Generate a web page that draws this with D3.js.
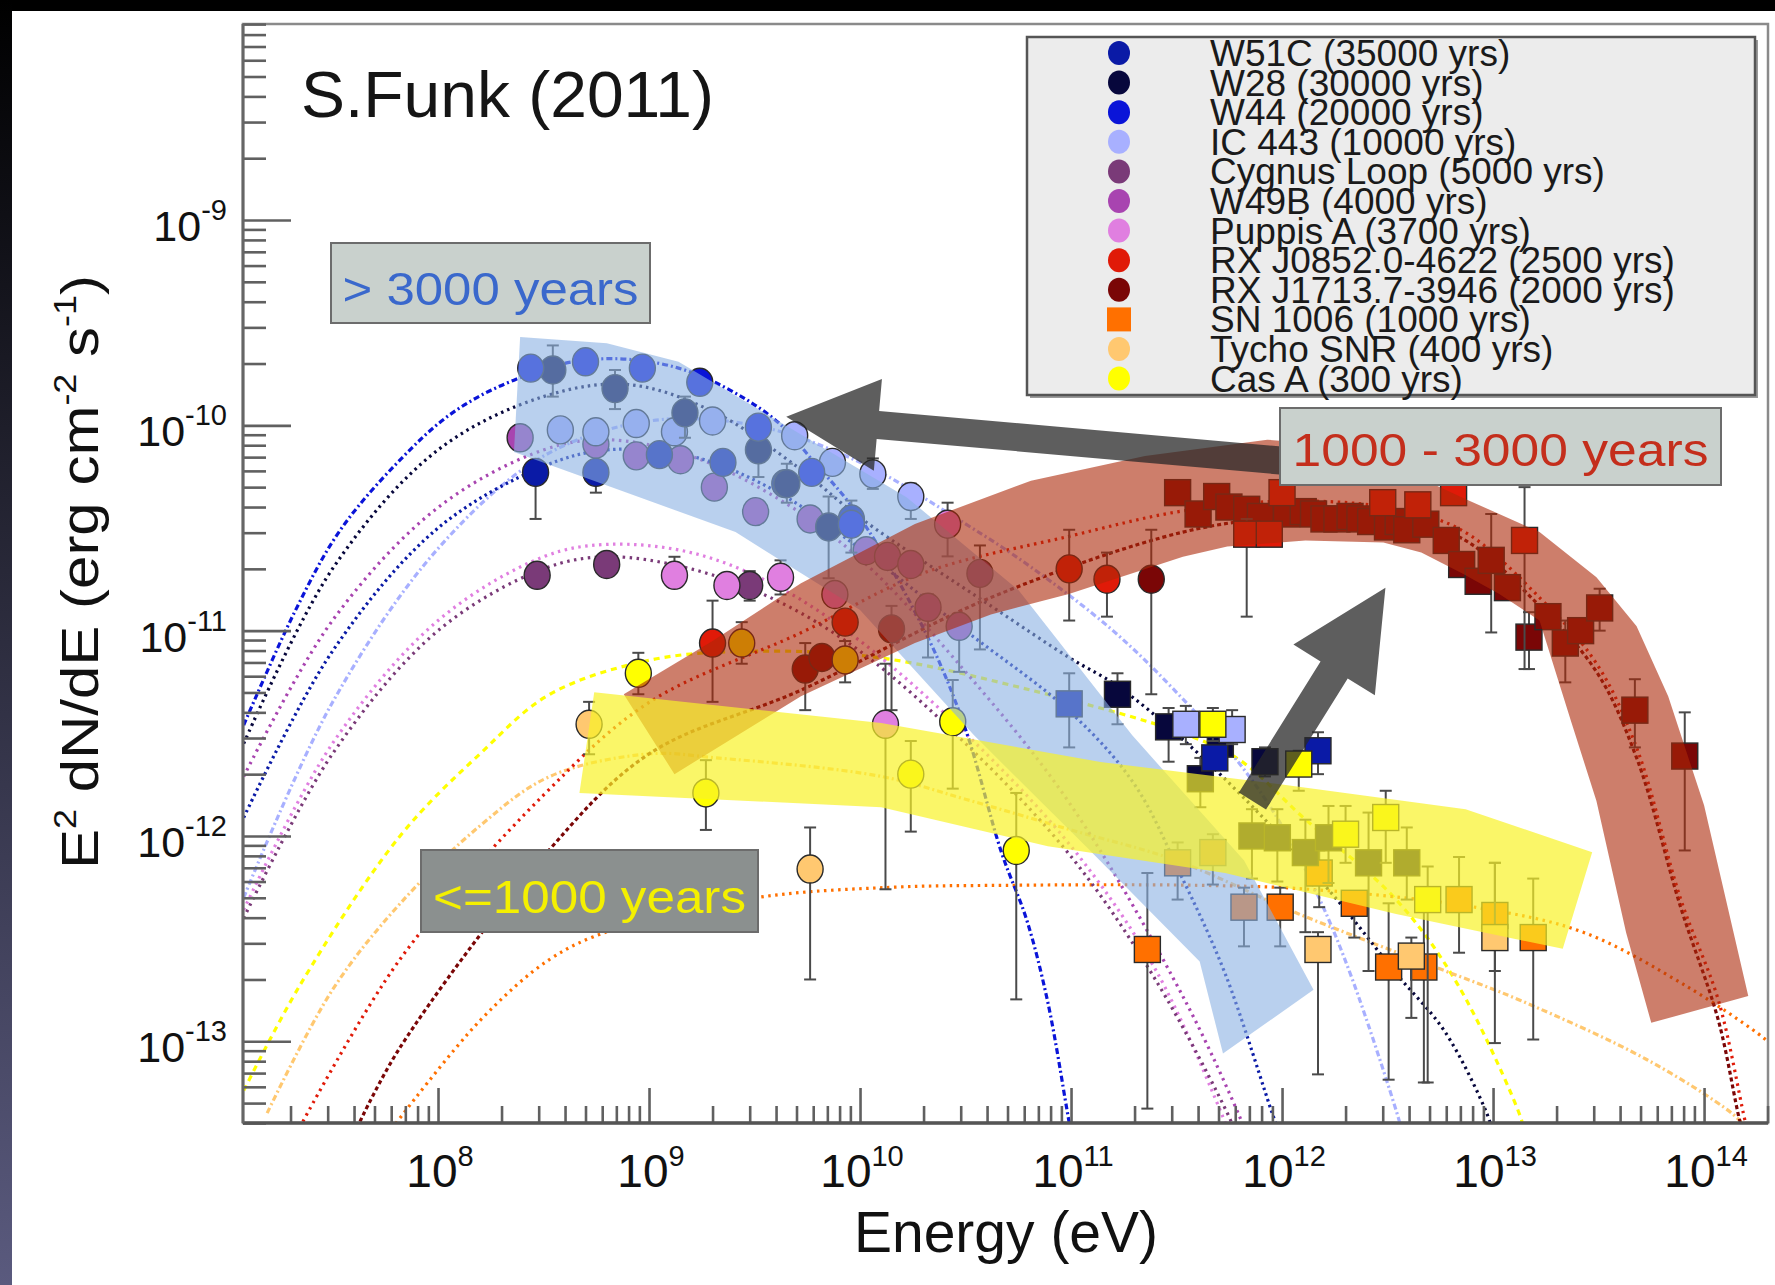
<!DOCTYPE html>
<html>
<head>
<meta charset="utf-8">
<script src="https://cdn.jsdelivr.net/npm/d3@7"></script>
<style>
  body { margin: 0; background: #fff; }
  svg { display: block; }
  text { font-family: "Liberation Sans", Arial, sans-serif; }
</style>
</head>
<body>
<svg id="chart" width="1775" height="1285"></svg>
<script>
// ---------- legend entries (source, age, colour, marker) ----------
const sourceNames  = ["W51C","W28","W44","IC 443","Cygnus Loop","W49B","Puppis A","RX J0852.0-4622","RX J1713.7-3946","SN 1006","Tycho SNR","Cas A"];
const sourceAges   = ["35000 yrs","30000 yrs","20000 yrs","10000 yrs","5000 yrs","4000 yrs","3700 yrs","2500 yrs","2000 yrs","1000 yrs","400 yrs","300 yrs"];
const sourceColors = ["#0a1aa6","#07073c","#0a14d8","#a8b0ff","#7a3a78","#a844b0","#e07fe0","#e01a08","#7a0606","#ff7000","#ffc870","#ffff00"];
const sourceShapes = ["circle","circle","circle","circle","circle","circle","circle","circle","circle","square","circle","circle"];

// ---------- measured points: [E (eV), E^2 dN/dE, lower, upper] ----------
const w51cGeV = [[2.9e8,5.9e-11,3.5e-11,6.6e-11],[5.6e8,5.9e-11,4.7e-11,6.3e-11],[1.12e9,7.2e-11],[2.24e9,6.6e-11],[4.4e9,5.2e-11],[9.1e9,3.5e-11,2.4e-11,4.3e-11]];
const w51cTeV = [[9.8e10,4.4e-12,2.7e-12,6.2e-12],[4.8e11,2.4e-12],[1.48e12,2.6e-12,2.0e-12,3.2e-12]];
const w28GeV  = [[3.5e8,1.86e-10,1.38e-10,2.45e-10],[6.9e8,1.51e-10,1.2e-10,1.86e-10],[1.48e9,1.15e-10,8.7e-11,1.38e-10],[3.3e9,7.6e-11,5.6e-11,1.0e-10],[4.5e9,5.2e-11,4.2e-11,6.5e-11],[7.1e9,3.2e-11,1.8e-11,4.5e-11]];
const w28TeV  = [[1.66e11,4.9e-12,3.5e-12,6.2e-12],[2.9e11,3.4e-12,2.3e-12,4.2e-12],[5.1e11,2.8e-12,2.4e-12,3.3e-12],[8.3e11,2.3e-12,1.95e-12,2.7e-12],
                 [4.1e11,1.9e-12,1.38e-12,2.4e-12],[7.2e11,1.0e-12,6.2e-13,1.35e-12],[9.5e11,9.8e-13,6.0e-13,1.35e-12],[1.29e12,8.3e-13,3.4e-13,1.2e-12],
                 [1.66e12,9.8e-13,5.9e-13,1.4e-12],[2.57e12,7.4e-13,2.2e-13,1.3e-12],[3.9e12,7.4e-13,4.9e-13,1.1e-12]];
const w44GeV  = [[2.75e8,1.9e-10],[5.0e8,2.04e-10],[9.3e8,1.9e-10],[1.74e9,1.62e-10],[3.3e9,9.8e-11],[5.9e9,5.9e-11],[9.1e9,3.3e-11]];
const ic443GeV = [[3.8e8,9.5e-11],[5.6e8,9.3e-11],[8.7e8,1.02e-10],[1.32e9,9.3e-11],[2.0e9,1.05e-10],[4.9e9,8.9e-11],[7.4e9,6.6e-11],[1.15e10,5.8e-11,4.9e-11,6.9e-11],[1.74e10,4.5e-11,3.5e-11,5.2e-11]];
const ic443TeV = [[3.5e11,3.5e-12,2.8e-12,4.3e-12],[5.8e11,3.3e-12,2.8e-12,4.1e-12]];
const cygnusGeV = [[2.95e8,1.86e-11],[6.3e8,2.1e-11],[3.0e9,1.66e-11,1.4e-11,1.95e-11],[3.7e10,1.9e-11,8.1e-12,2.6e-11]];
const w49bGeV = [[2.45e8,8.7e-11,7.6e-11,1.0e-10],[5.6e8,8.1e-11],[8.7e8,7.1e-11],[1.41e9,6.8e-11],[2.04e9,5.0e-11],[3.2e9,3.8e-11],[5.8e9,3.5e-11],
                 [1.07e10,2.45e-11],[1.35e10,2.3e-11],[1.74e10,2.1e-11],[2.1e10,1.3e-11,7.4e-12,1.5e-11],[2.95e10,1.05e-11,6.3e-12,1.17e-11]];
const puppisGeV = [[1.32e9,1.86e-11,1.62e-11,2.29e-11],[2.34e9,1.66e-11],[4.2e9,1.82e-11,1.5e-11,2.2e-11],[7.6e9,1.5e-11],[2.6e10,3.3e-11,2.3e-11,4.2e-11],[1.32e10,3.5e-12,5.5e-13,6.9e-12]];
const j0852GeV = [[2.0e9,8.7e-12,4.5e-12,1.4e-11],[8.5e9,1.1e-11],[9.8e10,2.0e-11,1.12e-11,3.1e-11],[1.48e11,1.78e-11,1.17e-11,2.4e-11]];
const j0852TeV = [[6.8e11,2.95e-11,1.17e-11,3.5e-11],[8.7e11,2.95e-11],[1.0e12,4.7e-11],[3.0e12,4.2e-11],[4.4e12,4.1e-11],[6.5e12,4.7e-11],[1.41e13,2.75e-11,6.5e-12,5.0e-11]];
const j1713GeV = [[5.5e9,6.5e-12,4.1e-12,8.7e-12],[6.6e9,7.4e-12],[1.41e10,1.02e-11,4.1e-12,1.32e-11],[2.4e11,1.78e-11,4.9e-12,3.1e-11]];
const j1713TeV = [[3.2e11,4.7e-11],[4.0e11,3.7e-11],[4.9e11,4.5e-11],[5.6e11,4.0e-11],[6.8e11,3.9e-11],[7.9e11,3.6e-11],[1.05e12,3.7e-11],[1.26e12,3.8e-11],
                  [1.41e12,3.7e-11],[1.58e12,3.5e-11],[1.82e12,3.5e-11],[2.1e12,3.6e-11],[2.34e12,3.5e-11],[2.63e12,3.4e-11],[3.16e12,3.2e-11],[3.55e12,3.4e-11],
                  [3.9e12,3.1e-11],[4.8e12,3.3e-11],[6.0e12,2.75e-11],[7.1e12,2.1e-11],[8.5e12,1.74e-11],[9.8e12,2.2e-11,9.8e-12,3.7e-11],[1.17e13,1.62e-11],
                  [1.48e13,9.3e-12,6.5e-12,1.23e-11],[1.82e13,1.17e-11],[2.2e13,8.7e-12,5.6e-12,1.12e-11],[2.6e13,1.0e-11],[3.2e13,1.29e-11,1.0e-11,1.6e-11],
                  [4.7e13,4.1e-12,2.7e-12,5.8e-12],[8.1e13,2.45e-12,8.5e-13,4.0e-12]];
const sn1006TeV = [[3.2e11,7.4e-13,4.9e-13,9.3e-13],[4.7e11,8.3e-13,5.8e-13,1.02e-12],[1.5e12,6.6e-13,4.5e-13,8.5e-13],[6.9e12,4.9e-13,2.7e-13,7.9e-13],
                   [1.02e13,4.1e-13,2.2e-13,7.4e-13],[1.55e13,3.2e-13,1.02e-13,6.2e-13],[2.3e11,2.8e-13,4.7e-14,6.6e-13],[6.6e11,4.5e-13,2.9e-13,5.6e-13],
                   [9.8e11,4.5e-13,2.9e-13,5.6e-13],[2.2e12,4.7e-13,3.2e-13,5.1e-13],[3.2e12,2.3e-13,6.5e-14,4.7e-13],[4.7e12,2.3e-13,6.3e-14,4.6e-13]];
const tychoGeV = [[5.2e8,3.5e-12,2.5e-12,4.5e-12],[5.8e9,6.9e-13,2.0e-13,1.1e-12]];
const tychoTeV = [[1.48e12,2.8e-13,6.9e-14,3.4e-13],[4.1e12,2.6e-13,1.3e-13,3.2e-13],[1.02e13,3.2e-13,9.8e-14,7.4e-13]];
const casaGeV = [[8.9e8,6.2e-12,4.9e-12,7.8e-12],[1.86e9,1.62e-12,1.07e-12,2.34e-12],[1.74e10,2.0e-12,1.05e-12,2.9e-12],[5.5e10,8.5e-13,1.6e-13,1.62e-12],
                 [2.75e9,8.7e-12,6.9e-12,1.1e-11],[8.5e9,7.2e-12,5.6e-12,8.9e-12],[2.75e10,3.6e-12,1.7e-12,5.75e-12]];
const casaTeV = [[4.7e11,3.5e-12,2.9e-12,4.2e-12],[1.2e12,2.24e-12,1.66e-12,2.6e-12],[2.0e12,1.02e-12,7.4e-13,1.4e-12],[3.1e12,1.23e-12,7.4e-13,1.66e-12],[4.9e12,4.9e-13,6.3e-14,7.1e-13]];

// which legend entry each point set belongs to, and its marker
const pointSets = [
  {src: 7, shape: "circle", data: j0852GeV},
  {src: 8, shape: "circle", data: j1713GeV},
  {src: 11, shape: "circle", data: casaGeV},
  {src: 10, shape: "circle", data: tychoGeV},
  {src: 4, shape: "circle", data: cygnusGeV},
  {src: 6, shape: "circle", data: puppisGeV},
  {src: 5, shape: "circle", data: w49bGeV},
  {src: 3, shape: "circle", data: ic443GeV},
  {src: 0, shape: "circle", data: w51cGeV},
  {src: 1, shape: "circle", data: w28GeV},
  {src: 2, shape: "circle", data: w44GeV},
  {src: 9, shape: "square", data: sn1006TeV},
  {src: 10, shape: "square", data: tychoTeV},
  {src: 1, shape: "square", data: w28TeV},
  {src: 0, shape: "square", data: w51cTeV},
  {src: 3, shape: "square", data: ic443TeV},
  {src: 11, shape: "square", data: casaTeV},
  {src: 8, shape: "square", data: j1713TeV},
  {src: 7, shape: "square", data: j0852TeV}
];

// ---------- model curves: [E (eV), E^2 dN/dE] ----------
const w44Model = [[1.2e7,3.47e-12],[2.09e7,1.23e-11],[3.39e7,3.02e-11],[6.31e7,6.46e-11],[1.17e8,1.15e-10],[2.29e8,1.66e-10],[5.13e8,2.09e-10],[1.38e9,1.9e-10],
                  [3.72e9,1.12e-10],[6.31e9,6.31e-11],[1.0e10,3.55e-11],[2.09e10,9.33e-12],[3.16e10,3.31e-12],[4.68e10,8.32e-13],[6.17e10,3.89e-13],[7.76e10,1.55e-13],[9.55e10,4.68e-14],[1.0e11,3.55e-14]];
const w28Model = [[1.2e7,2.82e-12],[3.16e7,2.0e-11],[1.0e8,7.59e-11],[3.16e8,1.38e-10],[7.94e8,1.58e-10],[2.0e9,1.17e-10],[5.01e9,6.31e-11],[1.0e10,3.55e-11],
                  [4.17e10,1.32e-11],[9.77e10,7.41e-12],[1.66e11,5.37e-12],[3.39e11,2.95e-12],[7.94e11,1.26e-12],[1.82e12,4.9e-13],[3.47e12,2.14e-13],[5.89e12,1.12e-13],[9.33e12,4.47e-14],[1.0e13,3.55e-14]];
const w51cModel = [[1.2e7,1.23e-12],[3.16e7,7.94e-12],[1.0e8,3.16e-11],[3.16e8,6.31e-11],[6.31e8,7.59e-11],[1.58e9,7.08e-11],[3.98e9,4.79e-11],[1.0e10,2.51e-11],
                   [3.16e10,1.0e-11],[1.0e11,3.98e-12],[2.0e11,1.78e-12],[3.31e11,6.46e-13],[5.37e11,2.14e-13],[9.12e11,4.27e-14],[9.77e11,3.55e-14]];
const ic443Model = [[1.2e7,5.01e-13],[3.16e7,4.47e-12],[1.0e8,2.51e-11],[3.16e8,7.08e-11],[1.0e9,1.05e-10],[3.16e9,1.0e-10],[1.0e10,6.61e-11],[3.16e10,3.31e-11],
                    [6.46e10,2.04e-11],[1.58e11,1.0e-11],[3.16e11,5.01e-12],[6.31e11,2.24e-12],[1.0e12,1.12e-12],[1.51e12,4.9e-13],[2.14e12,2.04e-13],[3.55e12,4.27e-14],[3.72e12,3.55e-14]];
const w49bModel = [[1.2e7,1.95e-12],[3.16e7,1.12e-11],[1.0e8,3.98e-11],[3.16e8,7.59e-11],[6.31e8,8.51e-11],[1.58e9,7.08e-11],[3.98e9,4.47e-11],[1.0e10,2.24e-11],
                   [3.16e10,6.31e-12],[1.0e11,1.41e-12],[3.47e11,1.58e-13],[6.31e11,4.27e-14],[6.76e11,3.55e-14]];
const cygnusModel = [[1.2e7,3.98e-13],[3.16e7,2.51e-12],[1.0e8,1.0e-11],[3.16e8,2.0e-11],[6.31e8,2.29e-11],[1.58e9,2.0e-11],[3.98e9,1.41e-11],[1.0e10,7.94e-12],
                     [3.16e10,2.82e-12],[1.0e11,7.94e-13],[2.51e11,2.0e-13],[5.62e11,4.27e-14],[6.03e11,3.55e-14]];
const puppisModel = [[1.2e7,4.37e-13],[3.16e7,2.82e-12],[1.0e8,1.12e-11],[3.16e8,2.29e-11],[6.31e8,2.63e-11],[1.58e9,2.4e-11],[3.98e9,1.66e-11],[1.0e10,8.91e-12],
                     [3.16e10,3.16e-12],[1.0e11,8.91e-13],[2.51e11,2.24e-13],[5.25e11,4.27e-14],[5.62e11,3.55e-14]];
const j0852Model = [[2.29e7,4.07e-14],[6.61e7,2.51e-13],[3.16e8,1.58e-12],[1.0e9,4.47e-12],[5.25e9,9.77e-12],[2.0e10,1.91e-11],[9.77e10,2.88e-11],[3.24e11,3.8e-11],
                    [1.0e12,4.27e-11],[3.16e12,3.98e-11],[7.08e12,3.09e-11],[1.66e13,1.45e-11],[3.09e13,6.92e-12],[4.79e13,2.69e-12],[7.76e13,4.9e-13],[1.17e14,1.58e-13],[1.55e14,4.27e-14],[1.62e14,3.55e-14]];
const j1713Model = [[4.27e7,4.07e-14],[6.61e7,9.33e-14],[3.16e8,7.94e-13],[1.0e9,2.51e-12],[5.25e9,5.13e-12],[4.17e10,1.45e-11],[3.39e11,3.02e-11],[1.0e12,3.55e-11],
                    [3.16e12,3.55e-11],[7.08e12,2.82e-11],[1.66e13,1.32e-11],[3.09e13,6.31e-12],[4.79e13,2.4e-12],[7.76e13,4.47e-13],[1.17e14,1.26e-13],[1.48e14,4.07e-14],[1.55e14,3.55e-14]];
const sn1006Model = [[6.31e7,3.98e-14],[1.58e8,1.26e-13],[3.39e8,2.51e-13],[6.61e8,3.47e-13],[3.24e9,5.01e-13],[1.38e10,5.62e-13],[4.9e10,5.75e-13],[3.98e11,5.75e-13],
                     [1.35e12,5.5e-13],[8.51e12,4.47e-13],[2.69e13,3.39e-13],[8.51e13,1.82e-13],[1.78e14,1.1e-13],[2.0e14,1.0e-13]];
const tychoModel = [[1.55e7,4.47e-14],[3.16e7,1.78e-13],[6.61e7,4.68e-13],[1.58e8,1.12e-12],[3.39e8,1.95e-12],[1.0e9,2.51e-12],[2.09e9,2.4e-12],[1.26e10,1.95e-12],
                    [3.16e10,1.51e-12],[1.0e11,1.07e-12],[3.16e11,7.59e-13],[1.2e12,4.17e-13],[5.37e12,2.29e-13],[1.35e13,1.58e-13],[5.37e13,8.13e-14],[1.35e14,4.47e-14],[1.58e14,3.8e-14]];
const casaModel = [[1.2e7,5.75e-14],[2.24e7,1.91e-13],[6.61e7,1.0e-12],[1.58e8,2.51e-12],[3.39e8,4.9e-12],[1.05e9,7.24e-12],[3.16e9,7.94e-12],[1.2e10,7.41e-12],
                   [6.46e10,5.13e-12],[3.39e11,3.16e-12],[6.31e11,2.34e-12],[1.26e12,1.23e-12],[3.47e12,4.9e-13],[6.76e12,1.91e-13],[1.35e13,4.27e-14],[1.41e13,3.55e-14]];

const models = [
  {src: 11, dash: "6 5", data: casaModel},
  {src: 10, dash: "6 3 2 3", data: tychoModel},
  {src: 9, dash: "2.5 4.5", data: sn1006Model},
  {src: 8, dash: "4 3", data: j1713Model},
  {src: 7, dash: "2.5 4.5", data: j0852Model},
  {src: 6, dash: "2.5 4.5", data: puppisModel},
  {src: 4, dash: "2.5 4.5", data: cygnusModel},
  {src: 5, dash: "2.5 4.5", data: w49bModel},
  {src: 3, dash: "6 3 2 3", data: ic443Model},
  {src: 0, dash: "2.5 3.5", data: w51cModel},
  {src: 1, dash: "2.5 4", data: w28Model},
  {src: 2, dash: "6 3 2 3", data: w44Model}
];

// ---------- age-group bands (outline vertices) ----------
const oldBand = [[2.45e8,2.69e-10],[6.31e8,2.51e-10],[1.38e9,2.04e-10],[4.79e9,9.55e-11],[1.66e10,4.47e-11],[5.62e10,1.58e-11],[1.95e11,3.09e-12],[6.61e11,7.59e-13],
                 [1.41e12,1.78e-13],[5.25e11,8.71e-14],[4.07e11,2.45e-13],[1.2e11,8.71e-13],[3.47e10,3.09e-12],[1.0e10,1.26e-11],[2.57e9,3.02e-11],[6.61e8,5.01e-11],[2.29e8,7.41e-11]];
const midBand = [[7.59e8,4.9e-12],[2.0e9,8.91e-12],[5.25e9,1.7e-11],[1.82e10,3.31e-11],[6.46e10,5.37e-11],[2.24e11,7.08e-11],[8.51e11,8.51e-11],[2.0e12,7.94e-11],
                 [3.8e12,6.03e-11],[7.08e12,4.47e-11],[1.66e13,3.02e-11],[3.09e13,1.82e-11],[4.79e13,1.05e-11],[6.76e13,4.79e-12],[1.0e14,1.41e-12],[1.62e14,1.66e-13],
                 [5.62e13,1.23e-13],[4.27e13,3.39e-13],[3.09e13,1.48e-12],[2.34e13,3.63e-12],[1.66e13,1.12e-11],[1.07e13,1.51e-11],[7.08e12,1.91e-11],[4.57e12,2.4e-11],
                 [3.02e12,2.69e-11],[1.29e12,2.75e-11],[5.5e11,2.57e-11],[3.39e11,2.29e-11],[9.77e10,1.51e-11],[4.17e10,1.2e-11],[1.82e10,8.71e-12],[5.25e9,4.79e-12],[1.32e9,2.0e-12]];
const youngBand = [[5.5e8,5.01e-12],[1.26e10,3.55e-12],[1.38e11,2.29e-12],[1.0e12,1.78e-12],[7.41e12,1.35e-12],[2.95e13,8.32e-13],
                   [2.14e13,2.82e-13],[3.47e12,4.17e-13],[5.37e11,6.61e-13],[7.76e10,8.91e-13],[1.26e10,1.38e-12],[4.68e8,1.62e-12]];

// ---------- arrows: [tail, tip] in data units ----------
const arrowToOld   = [[1.05e12,6.7e-11],[4.47e9,1.1e-10]];
const arrowToMid   = [[7.24e11,1.48e-12],[3.09e12,1.62e-11]];

// ---------- axis ticks ----------
const xMajor = [1e8,1e9,1e10,1e11,1e12,1e13,1e14];
const xMajorExp = ["8","9","10","11","12","13","14"];
const yMajor = [1e-13,1e-12,1e-11,1e-10,1e-9];
const yMajorExp = ["-13","-12","-11","-10","-9"];

// ================= drawing =================
const svg = d3.select("#chart");
const W = 1775, H = 1285;
const plot = {left: 243, right: 1768, top: 24, bottom: 1123};

const x = d3.scaleLog().domain([Math.pow(10, 7.0758), Math.pow(10, 14.303)]).range([plot.left, plot.right]);
const y = d3.scaleLog().domain([Math.pow(10, -13.398), Math.pow(10, -8.0453)]).range([plot.bottom, plot.top]);

// page background: white sheet with a dark rim along the top and left
const defs = svg.append("defs");
const rim = defs.append("linearGradient").attr("id", "rim").attr("x1", 0).attr("y1", 0).attr("x2", 0).attr("y2", 1);
rim.append("stop").attr("offset", "0%").attr("stop-color", "#000");
rim.append("stop").attr("offset", "100%").attr("stop-color", "#5a5a7e");
defs.append("clipPath").attr("id", "plotclip").append("rect")
  .attr("x", plot.left).attr("y", plot.top).attr("width", plot.right - plot.left).attr("height", plot.bottom - plot.top);

svg.append("rect").attr("width", W).attr("height", H).attr("fill", "#fff");
svg.append("rect").attr("width", W).attr("height", 11).attr("fill", "#000");
svg.append("rect").attr("x", 0).attr("y", 0).attr("width", 12).attr("height", H).attr("fill", "url(#rim)");

// frame
svg.append("rect").attr("x", plot.left).attr("y", plot.top)
  .attr("width", plot.right - plot.left).attr("height", plot.bottom - plot.top)
  .attr("fill", "none").attr("stroke", "#8a8a8a").attr("stroke-width", 2.5);

const inner = svg.append("g").attr("clip-path", "url(#plotclip)");

// model curves
const curveLine = d3.line().x(d => x(d[0])).y(d => y(d[1])).curve(d3.curveCatmullRom.alpha(0.5));
inner.append("g").selectAll("path").data(models).join("path")
  .attr("d", m => curveLine(m.data))
  .attr("fill", "none")
  .attr("stroke", m => sourceColors[m.src])
  .attr("stroke-width", 3.2)
  .attr("stroke-dasharray", m => m.dash);

// error bars and markers
const R = 13;
pointSets.forEach(set => {
  const g = inner.append("g");
  const withErr = set.data.filter(d => d.length > 2);
  const eb = g.selectAll("g.eb").data(withErr).join("g").attr("class", "eb")
    .attr("stroke", "#4a4a4a").attr("stroke-width", 2);
  eb.append("line").attr("x1", d => x(d[0])).attr("x2", d => x(d[0])).attr("y1", d => y(d[2])).attr("y2", d => y(d[3]));
  eb.append("line").attr("x1", d => x(d[0]) - 6).attr("x2", d => x(d[0]) + 6).attr("y1", d => y(d[2])).attr("y2", d => y(d[2]));
  eb.append("line").attr("x1", d => x(d[0]) - 6).attr("x2", d => x(d[0]) + 6).attr("y1", d => y(d[3])).attr("y2", d => y(d[3]));
  const col = sourceColors[set.src];
  if (set.shape === "circle") {
    g.selectAll("ellipse").data(set.data).join("ellipse")
      .attr("cx", d => x(d[0])).attr("cy", d => y(d[1])).attr("rx", R).attr("ry", R + 1)
      .attr("fill", col).attr("stroke", "#2a2a2a").attr("stroke-width", 1.4);
  } else {
    g.selectAll("rect").data(set.data).join("rect")
      .attr("x", d => x(d[0]) - R).attr("y", d => y(d[1]) - R).attr("width", 2 * R).attr("height", 2 * R)
      .attr("fill", col).attr("stroke", "#2a2a2a").attr("stroke-width", 1.4);
  }
});

// translucent age-group bands laid over the points
const bandLine = d3.line().x(d => x(d[0])).y(d => y(d[1])).curve(d3.curveLinearClosed);
inner.append("path").attr("d", bandLine(oldBand)).attr("fill", "rgb(138,177,227)").attr("fill-opacity", 0.6);
inner.append("path").attr("d", bandLine(midBand)).attr("fill", "rgb(172,40,8)").attr("fill-opacity", 0.6);
inner.append("path").attr("d", bandLine(youngBand)).attr("fill", "rgb(248,242,40)").attr("fill-opacity", 0.7);

// block arrows
function arrowPath(tail, tip, shaft, headLen, headHalf) {
  const tx = x(tail[0]), ty = y(tail[1]), px = x(tip[0]), py = y(tip[1]);
  const len = Math.hypot(px - tx, py - ty);
  const ux = (px - tx) / len, uy = (py - ty) / len;
  const nx = -uy, ny = ux;
  const bx = px - ux * headLen, by = py - uy * headLen;
  const p = d3.path();
  p.moveTo(tx + nx * shaft / 2, ty + ny * shaft / 2);
  p.lineTo(bx + nx * shaft / 2, by + ny * shaft / 2);
  p.lineTo(bx + nx * headHalf, by + ny * headHalf);
  p.lineTo(px, py);
  p.lineTo(bx - nx * headHalf, by - ny * headHalf);
  p.lineTo(bx - nx * shaft / 2, by - ny * shaft / 2);
  p.lineTo(tx - nx * shaft / 2, ty - ny * shaft / 2);
  p.closePath();
  return p.toString();
}
inner.append("path").attr("d", arrowPath(arrowToOld[0], arrowToOld[1], 28, 92, 46)).attr("fill", "rgba(40,40,40,0.75)");
inner.append("path").attr("d", arrowPath(arrowToMid[0], arrowToMid[1], 32, 97, 48)).attr("fill", "rgba(40,40,40,0.75)");

// age-group label boxes
function labelBox(bx, by, bw, bh, fill, txt, color, baseline, tlen) {
  svg.append("rect").attr("x", bx).attr("y", by).attr("width", bw).attr("height", bh)
    .attr("fill", fill).attr("stroke", "#6c6c6c").attr("stroke-width", 2);
  svg.append("text").attr("x", bx + bw / 2).attr("y", baseline).attr("text-anchor", "middle")
    .attr("font-size", 47).attr("fill", color)
    .attr("textLength", tlen).attr("lengthAdjust", "spacingAndGlyphs").text(txt);
}
labelBox(331, 243, 319, 80, "#c9d1cd", "> 3000 years", "#3a68cc", 305, 296);
labelBox(1280, 408, 441, 77, "#c9d1cd", "1000 - 3000 years", "#c42e1c", 466, 416);
labelBox(421, 850, 337, 82, "#8b908f", "<=1000 years", "#f4f000", 913, 313);

// axes: ticks point inwards
function styleAxis(g) {
  g.select(".domain").remove();
  g.selectAll(".tick line").attr("stroke", "#606060").attr("stroke-width", 2.6);
}
const inX = v => v >= x.domain()[0] && v <= x.domain()[1];
const inY = v => v >= y.domain()[0] && v <= y.domain()[1];
const xMinor = [], yMinor = [];
for (let e = 7; e <= 14; e++) for (let m = 2; m <= 9; m++) if (inX(m * Math.pow(10, e))) xMinor.push(m * Math.pow(10, e));
for (let e = -14; e <= -9; e++) for (let m = 2; m <= 9; m++) if (inY(m * Math.pow(10, e))) yMinor.push(m * Math.pow(10, e));

svg.append("g").attr("transform", `translate(0,${plot.bottom})`)
  .call(d3.axisBottom(x).tickValues(xMinor).tickSize(-17).tickSizeOuter(0).tickFormat("")).call(styleAxis);
svg.append("g").attr("transform", `translate(0,${plot.bottom})`)
  .call(d3.axisBottom(x).tickValues(xMajor).tickSize(-35).tickSizeOuter(0).tickFormat("")).call(styleAxis);
svg.append("g").attr("transform", `translate(${plot.left},0)`)
  .call(d3.axisLeft(y).tickValues(yMinor).tickSize(-23).tickSizeOuter(0).tickFormat("")).call(styleAxis);
svg.append("g").attr("transform", `translate(${plot.left},0)`)
  .call(d3.axisLeft(y).tickValues(yMajor).tickSize(-48).tickSizeOuter(0).tickFormat("")).call(styleAxis);

// axis lines
svg.append("line").attr("x1", plot.left).attr("x2", plot.right).attr("y1", plot.bottom).attr("y2", plot.bottom)
  .attr("stroke", "#555").attr("stroke-width", 3.5);
svg.append("line").attr("x1", plot.left).attr("x2", plot.left).attr("y1", plot.top).attr("y2", plot.bottom)
  .attr("stroke", "#666").attr("stroke-width", 3);

// tick labels with superscript exponents
const xl = svg.append("g").selectAll("text").data(xMajor).join("text")
  .attr("x", d => x(d) + 2).attr("y", 1187).attr("text-anchor", "middle").attr("font-size", 46).attr("fill", "#111");
xl.append("tspan").text("10");
xl.append("tspan").attr("font-size", 29).attr("dy", -21).text((d, i) => xMajorExp[i]);

const yl = svg.append("g").selectAll("text").data(yMajor).join("text")
  .attr("x", 227).attr("y", d => y(d) + 21).attr("text-anchor", "end").attr("font-size", 43).attr("fill", "#111");
yl.append("tspan").text("10");
yl.append("tspan").attr("font-size", 29).attr("dy", -21).text((d, i) => yMajorExp[i]);

// axis titles
svg.append("text").attr("x", 1006).attr("y", 1252).attr("text-anchor", "middle")
  .attr("font-size", 57).attr("fill", "#111").text("Energy (eV)");

const yt = svg.append("text").attr("transform", "translate(98,572) rotate(-90) scale(1,0.85)")
  .attr("text-anchor", "middle").attr("font-size", 60).attr("fill", "#111");
yt.append("tspan").text("E");
yt.append("tspan").attr("font-size", 36).attr("dy", -26).text("2");
yt.append("tspan").attr("dy", 26).text(" dN/dE (erg cm");
yt.append("tspan").attr("font-size", 36).attr("dy", -26).text("-2");
yt.append("tspan").attr("dy", 26).text(" s");
yt.append("tspan").attr("font-size", 36).attr("dy", -26).text("-1");
yt.append("tspan").attr("dy", 26).text(")");

// citation
svg.append("text").attr("x", 301).attr("y", 117)
  .attr("font-family", "'Liberation Sans Narrow', 'Open Sans', sans-serif")
  .attr("font-size", 64).attr("fill", "#151515")
  .attr("textLength", 413).attr("lengthAdjust", "spacingAndGlyphs").text("S.Funk (2011)");

// legend
const lg = svg.append("g");
lg.append("rect").attr("x", 1030).attr("y", 40).attr("width", 728).attr("height", 358).attr("fill", "#9a9a9a");
lg.append("rect").attr("x", 1027).attr("y", 37).attr("width", 728).attr("height", 358)
  .attr("fill", "#ececec").attr("stroke", "#555").attr("stroke-width", 2.5);
const rows = lg.selectAll("g.row").data(sourceNames).join("g").attr("class", "row")
  .attr("transform", (d, i) => `translate(0,${53 + 29.6 * i})`);
rows.each(function (d, i) {
  const r = d3.select(this);
  if (sourceShapes[i] === "square") {
    r.append("rect").attr("x", 1107).attr("y", -12).attr("width", 24).attr("height", 24).attr("fill", sourceColors[i]);
  } else {
    r.append("ellipse").attr("cx", 1119).attr("cy", 0).attr("rx", 11).attr("ry", 12).attr("fill", sourceColors[i]);
  }
  r.append("text").attr("x", 1210).attr("y", 13).attr("font-size", 37).attr("fill", "#1a1a1a")
    .text(`${d} (${sourceAges[i]})`);
});
</script>
</body>
</html>
